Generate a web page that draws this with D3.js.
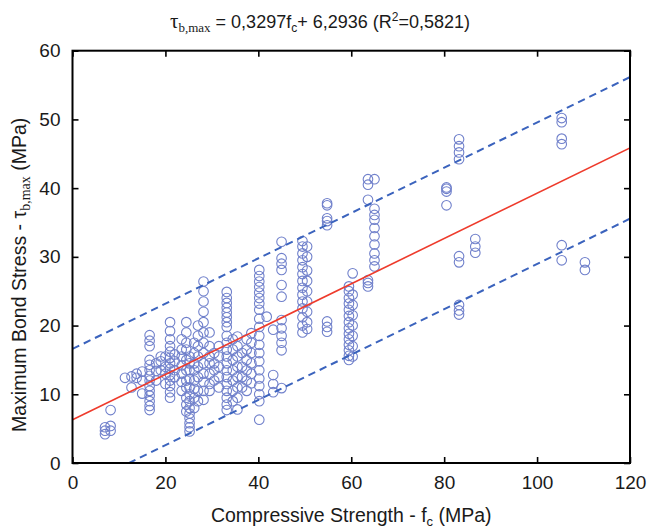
<!DOCTYPE html>
<html>
<head>
<meta charset="utf-8">
<script src="https://cdn.jsdelivr.net/npm/d3@7/dist/d3.min.js"></script>
<style>
  html, body { margin: 0; padding: 0; background: #fff; }
  svg { display: block; font-family: "Liberation Sans", Arial, sans-serif; }
</style>
</head>
<body>
<svg id="chart" width="648" height="530"></svg>
<script>
// Compressive strength groups (MPa) and the bond stresses measured in each (MPa)
const strengthGroups = [7.0, 8.2, 11.3, 12.7, 13.8, 15.0, 16.6, 18.0, 19.0, 20.0, 21.0, 22.0, 23.5, 24.5, 25.2, 26.2,
  27.0, 28.2, 29.5, 30.5, 31.5, 33.2, 34.5, 35.5, 36.5, 37.5, 38.5, 40.2, 41.8, 43.2, 45.0, 49.5, 50.5, 54.8,
  59.5, 60.3, 63.6, 65.0, 80.5, 83.2, 86.7, 105.3, 110.3];
const bondStress = [
  [4.2, 4.7, 5.2],
  [4.7, 5.4, 7.7],
  [12.4],
  [11.0, 12.6],
  [12.4, 13.0],
  [10.1, 12.0, 13.3],
  [7.7, 8.3, 9.0, 9.8, 10.5, 11.2, 12.0, 12.7, 13.5, 14.3, 15.0, 17.0, 17.8, 18.6],
  [12.0, 13.4, 14.5],
  [13.5, 14.8, 15.5],
  [11.5, 13.0, 14.0, 15.5],
  [9.5, 10.3, 11.2, 12.0, 12.8, 13.7, 14.5, 15.3, 16.2, 17.0, 18.0, 19.2, 20.5],
  [12.5, 13.5, 14.8, 15.8],
  [10.5, 11.8, 13.0, 14.2, 15.5, 16.5, 18.0],
  [7.5, 8.5, 9.5, 11.0, 12.0, 13.5, 15.0, 16.5, 17.5, 19.0, 20.5],
  [4.6, 5.2, 5.8, 6.5, 7.2, 8.0, 9.0, 10.0, 11.0, 12.2, 13.5, 14.5, 15.5],
  [8.0, 9.5, 10.8, 12.0, 13.5, 14.5, 16.0, 17.5],
  [9.0, 10.5, 12.5, 14.0, 15.5, 17.0, 18.5, 20.0],
  [9.2, 10.5, 11.8, 13.0, 14.5, 16.0, 17.5, 19.0, 20.5, 22.0, 23.5, 25.0, 26.4],
  [10.5, 11.5, 13.0, 14.5, 15.5, 17.0, 19.0],
  [12.0, 13.5, 14.5, 16.0],
  [11.0, 12.5, 14.0, 15.5, 17.0],
  [7.7, 8.5, 9.5, 10.5, 11.5, 12.5, 13.5, 14.5, 15.5, 16.5, 17.5, 18.5, 19.8, 20.5, 21.2, 21.9, 22.6, 23.3, 24.0, 24.9],
  [9.0, 10.5, 12.0, 13.5, 15.0, 16.5, 18.0],
  [7.8, 9.5, 11.0, 12.5, 14.0, 15.5, 17.0, 18.4],
  [11.0, 12.5, 14.0, 16.0],
  [10.5, 12.0, 13.5, 15.0, 16.5, 18.0],
  [11.6, 13.0, 14.5, 16.0, 17.5, 18.9],
  [6.3, 9.0, 10.0, 11.2, 12.3, 13.5, 14.8, 16.0, 17.2, 18.5, 19.8, 21.0, 22.3, 23.2, 24.0, 24.8, 25.6, 26.4, 27.2, 28.1],
  [21.3],
  [10.3, 11.5, 12.8, 19.4],
  [10.9, 16.4, 17.5, 18.5, 19.6, 20.8, 24.2, 25.9, 28.1, 29.0, 29.8, 32.2],
  [19.0, 20.0, 21.2, 22.5, 23.5, 24.5, 25.5, 26.5, 27.5, 28.5, 29.5, 30.5, 31.5, 32.3],
  [19.5, 20.5, 22.0, 23.5, 25.0, 26.5, 28.0, 30.0, 31.5],
  [19.1, 19.8, 20.6, 34.6, 35.2, 35.6, 37.5, 37.8],
  [15.0, 15.6, 16.4, 17.2, 18.0, 18.8, 19.6, 20.5, 21.4, 22.3, 23.2, 24.0, 25.0, 25.7],
  [15.5, 17.0, 18.5, 20.0, 21.5, 23.0, 24.5, 27.6],
  [25.7, 26.2, 26.6, 38.3, 40.5, 41.3],
  [28.6, 29.5, 30.5, 31.8, 33.0, 34.2, 35.4, 36.1, 37.0, 41.3],
  [37.5, 39.5, 39.9, 40.1],
  [21.6, 22.2, 23.0, 29.2, 30.1, 44.2, 45.2, 46.1, 47.1],
  [30.6, 31.5, 32.6],
  [29.5, 31.7, 46.4, 47.2, 49.6, 50.2],
  [28.1, 29.2]
];

// Linear fit from the title and half-width of the dashed prediction band (MPa)
const fitSlope = 0.3297;
const fitIntercept = 6.2936;
const bandHalfWidth = 10.3;

const xTicks = [0, 20, 40, 60, 80, 100, 120];
const yTicks = [0, 10, 20, 30, 40, 50, 60];

const svg = d3.select("#chart");
const plotLeft = 72.5, plotRight = 630, plotTop = 50.7, plotBottom = 463;

const x = d3.scaleLinear().domain([0, 120]).range([plotLeft, plotRight]);
const y = d3.scaleLinear().domain([0, 60]).range([plotBottom, plotTop]);

const points = [];
strengthGroups.forEach((fc, i) => bondStress[i].forEach(t => points.push({ fc, t })));

svg.append("clipPath").attr("id", "plotClip")
  .append("rect").attr("x", plotLeft).attr("y", plotTop)
  .attr("width", plotRight - plotLeft).attr("height", plotBottom - plotTop);

// Scatter of measurements
svg.append("g").selectAll("circle").data(points).join("circle")
  .attr("cx", d => x(d.fc)).attr("cy", d => y(d.t)).attr("r", 4.8)
  .attr("fill", "none").attr("stroke", "#7080cb").attr("stroke-width", 1.1);

// Fit line and prediction bands
const lineGen = offset => d3.line()
  .x(d => x(d)).y(d => y(fitSlope * d + fitIntercept + offset));
const xs = [0, 120];
const lines = svg.append("g").attr("clip-path", "url(#plotClip)");
[bandHalfWidth, -bandHalfWidth].forEach(off => {
  lines.append("path").datum(xs).attr("d", lineGen(off))
    .attr("fill", "none").attr("stroke", "#3b63bd").attr("stroke-width", 2)
    .attr("stroke-dasharray", "7.5,5");
});
lines.append("path").datum(xs).attr("d", lineGen(0))
  .attr("fill", "none").attr("stroke", "#ee3b2c").attr("stroke-width", 1.6);

// Axes: ticks point inward on all four sides
const fontSize = 19;
const styleAxis = g => {
  g.select(".domain").remove();
  g.selectAll(".tick line").attr("stroke", "#000").attr("stroke-width", 1.6);
  g.selectAll(".tick text").attr("font-size", fontSize).attr("fill", "#1a1a1a")
    .attr("font-family", "'Liberation Sans', Arial, sans-serif");
};
svg.append("g").attr("transform", `translate(0,${plotBottom})`)
  .call(d3.axisBottom(x).tickValues(xTicks).tickSize(-6).tickPadding(13).tickFormat(d3.format("d")))
  .call(styleAxis);
svg.append("g").attr("transform", `translate(0,${plotTop})`)
  .call(d3.axisTop(x).tickValues(xTicks).tickSize(-6).tickFormat(""))
  .call(styleAxis);
svg.append("g").attr("transform", `translate(${plotLeft},0)`)
  .call(d3.axisLeft(y).tickValues(yTicks).tickSize(-6).tickPadding(12).tickFormat(d3.format("d")))
  .call(styleAxis);
svg.append("g").attr("transform", `translate(${plotRight},0)`)
  .call(d3.axisRight(y).tickValues(yTicks).tickSize(-6).tickFormat(""))
  .call(styleAxis);

svg.append("rect").attr("x", plotLeft).attr("y", plotTop)
  .attr("width", plotRight - plotLeft).attr("height", plotBottom - plotTop)
  .attr("fill", "none").attr("stroke", "#000").attr("stroke-width", 2);

// Title with the fitted equation
const serif = "'Liberation Serif', 'Times New Roman', serif";
const title = svg.append("text").attr("x", 320).attr("y", 28)
  .attr("text-anchor", "middle").attr("font-size", 18).attr("fill", "#1a1a1a");
title.append("tspan").attr("font-family", serif).attr("font-size", 21).text("τ");
title.append("tspan").attr("font-family", serif).attr("font-size", 13).attr("dy", 4).text("b,max");
title.append("tspan").attr("dy", -4).text(" = 0,3297f");
title.append("tspan").attr("font-size", 12).attr("dy", 4).text("c");
title.append("tspan").attr("dy", -4).text("+ 6,2936 (R");
title.append("tspan").attr("font-size", 12).attr("dy", -7).text("2");
title.append("tspan").attr("dy", 7).text("=0,5821)");

// Axis titles
const xTitle = svg.append("text").attr("x", (plotLeft + plotRight) / 2).attr("y", 522)
  .attr("text-anchor", "middle").attr("font-size", 19.5).attr("fill", "#1a1a1a");
xTitle.append("tspan").text("Compressive Strength - f");
xTitle.append("tspan").attr("font-size", 13).attr("dy", 4).text("c");
xTitle.append("tspan").attr("dy", -4).text(" (MPa)");

const yTitle = svg.append("text")
  .attr("transform", `translate(26,${(plotTop + plotBottom) / 2 + 18}) rotate(-90)`)
  .attr("text-anchor", "middle").attr("font-size", 19.5).attr("fill", "#1a1a1a");
yTitle.append("tspan").text("Maximum Bond Stress - τ");
yTitle.append("tspan").attr("font-family", serif).attr("font-size", 14).attr("dy", 4).text("b,max");
yTitle.append("tspan").attr("dy", -4).text(" (MPa)");
</script>
</body>
</html>
